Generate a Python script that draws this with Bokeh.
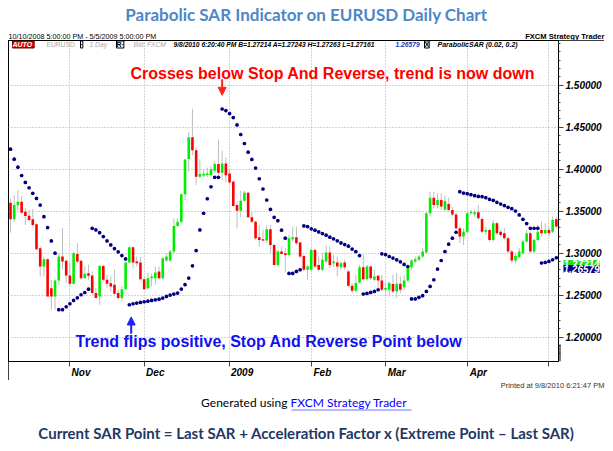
import pandas as pd
from bokeh.plotting import figure
from bokeh.layouts import column, row
from bokeh.models import (ColumnDataSource, Range1d, FixedTicker, PrintfTickFormatter,
                          Label, BoxAnnotation, Arrow, NormalHead)
from bokeh.embed import file_html
from bokeh.resources import INLINE

# ---------------- data ----------------
start_date = "2008-10-10"
end_date = "2009-05-05"

opens = [
    1.3601, 1.3403, 1.3569, 1.3613, 1.3494, 1.3446, 1.3403, 1.3343, 1.3058, 1.2840,
    1.2928, 1.2583, 1.2484, 1.2674, 1.2959, 1.2908, 1.2734, 1.2635, 1.2991, 1.2908,
    1.2702, 1.2761, 1.2734, 1.2524, 1.2484, 1.2848, 1.2682, 1.2642, 1.2622, 1.2524,
    1.2464, 1.2571, 1.2888, 1.3070, 1.2900, 1.2888, 1.2690, 1.2583, 1.2702, 1.2702,
    1.2781, 1.2702, 1.2912, 1.2912, 1.3019, 1.3324, 1.3375, 1.3700, 1.4120, 1.4380,
    1.4227, 1.3910, 1.3925, 1.3930, 1.3930, 1.3981, 1.4061, 1.3957, 1.4068, 1.3949,
    1.3850, 1.3573, 1.3506, 1.3625, 1.3720, 1.3426, 1.3375, 1.3189, 1.3165, 1.3149,
    1.3284, 1.3098, 1.2860, 1.3019, 1.2999, 1.2979, 1.3165, 1.3189, 1.3126, 1.2967,
    1.2801, 1.2801, 1.3038, 1.2860, 1.2801, 1.2900, 1.3007, 1.2880, 1.2888, 1.2833,
    1.2888, 1.2781, 1.2611, 1.2552, 1.2651, 1.2833, 1.2690, 1.2841, 1.2682, 1.2730,
    1.2674, 1.2564, 1.2564, 1.2631, 1.2544, 1.2635, 1.2595, 1.2675, 1.2833, 1.2900,
    1.2920, 1.2960, 1.3007, 1.3474, 1.3661, 1.3573, 1.3633, 1.3520, 1.3585, 1.3514,
    1.3460, 1.3296, 1.3197, 1.3256, 1.3474, 1.3462, 1.3486, 1.3407, 1.3256, 1.3276,
    1.3157, 1.3355, 1.3256, 1.3237, 1.3177, 1.3019, 1.2912, 1.2952, 1.2999, 1.3138,
    1.3237, 1.3019, 1.3157, 1.3276, 1.3237, 1.3277, 1.3256, 1.3403,
]
highs = [
    1.3652, 1.3692, 1.3751, 1.3680, 1.3533, 1.3514, 1.3525, 1.3355, 1.3078, 1.2959,
    1.2939, 1.2682, 1.2682, 1.2999, 1.3296, 1.2920, 1.2880, 1.3019, 1.3118, 1.2920,
    1.2840, 1.2860, 1.2781, 1.2583, 1.2860, 1.2860, 1.2741, 1.2722, 1.2801, 1.2563,
    1.2603, 1.2900, 1.3078, 1.3078, 1.2959, 1.2959, 1.2722, 1.2761, 1.2761, 1.2840,
    1.2840, 1.2959, 1.2999, 1.3038, 1.3415, 1.3415, 1.3712, 1.4127, 1.4440, 1.4720,
    1.4260, 1.4116, 1.3990, 1.4020, 1.4040, 1.4100, 1.4354, 1.4218, 1.4139, 1.3989,
    1.3870, 1.3613, 1.3743, 1.3743, 1.3731, 1.3494, 1.3387, 1.3335, 1.3276, 1.3335,
    1.3335, 1.3118, 1.3038, 1.3070, 1.3058, 1.3217, 1.3316, 1.3316, 1.3137, 1.2979,
    1.2860, 1.3058, 1.3058, 1.2959, 1.2999, 1.3098, 1.3078, 1.2979, 1.2959, 1.2900,
    1.2920, 1.2801, 1.2643, 1.2742, 1.2861, 1.2991, 1.2861, 1.2849, 1.2801, 1.2742,
    1.2742, 1.2643, 1.2663, 1.2742, 1.2762, 1.2722, 1.2742, 1.2861, 1.2928, 1.2960,
    1.2979, 1.3059, 1.3494, 1.3732, 1.3732, 1.3712, 1.3712, 1.3690, 1.3660, 1.3550,
    1.3480, 1.3316, 1.3296, 1.3494, 1.3514, 1.3520, 1.3573, 1.3435, 1.3316, 1.3296,
    1.3395, 1.3375, 1.3276, 1.3296, 1.3197, 1.3039, 1.3000, 1.3060, 1.3160, 1.3276,
    1.3256, 1.3177, 1.3335, 1.3375, 1.3355, 1.3316, 1.3435, 1.3435,
]
lows = [
    1.3244, 1.3375, 1.3514, 1.3474, 1.3335, 1.3375, 1.3316, 1.3038, 1.2722, 1.2722,
    1.2484, 1.2326, 1.2326, 1.2622, 1.2801, 1.2642, 1.2603, 1.2622, 1.2880, 1.2682,
    1.2702, 1.2682, 1.2504, 1.2464, 1.2385, 1.2662, 1.2583, 1.2543, 1.2504, 1.2444,
    1.2425, 1.2563, 1.2880, 1.2820, 1.2840, 1.2682, 1.2563, 1.2563, 1.2603, 1.2622,
    1.2682, 1.2682, 1.2900, 1.2900, 1.2999, 1.3316, 1.3355, 1.3632, 1.3969, 1.4167,
    1.3811, 1.3891, 1.3905, 1.3910, 1.3910, 1.3960, 1.3930, 1.3880, 1.3850, 1.3830,
    1.3553, 1.3296, 1.3426, 1.3613, 1.3415, 1.3355, 1.3157, 1.3078, 1.3137, 1.3118,
    1.2999, 1.2860, 1.2840, 1.2979, 1.2769, 1.2959, 1.3137, 1.3098, 1.2939, 1.2781,
    1.2682, 1.2781, 1.2820, 1.2781, 1.2781, 1.2880, 1.2820, 1.2840, 1.2722, 1.2801,
    1.2801, 1.2603, 1.2524, 1.2532, 1.2635, 1.2674, 1.2674, 1.2682, 1.2662, 1.2583,
    1.2544, 1.2504, 1.2484, 1.2524, 1.2465, 1.2524, 1.2564, 1.2651, 1.2801, 1.2880,
    1.2900, 1.2940, 1.2991, 1.3435, 1.3534, 1.3534, 1.3514, 1.3500, 1.3490, 1.3440,
    1.3276, 1.3118, 1.3098, 1.3237, 1.3455, 1.3430, 1.3395, 1.3237, 1.3217, 1.3138,
    1.3138, 1.3217, 1.3197, 1.3157, 1.2999, 1.2880, 1.2880, 1.2940, 1.2980, 1.3118,
    1.2999, 1.2999, 1.3138, 1.3197, 1.3217, 1.3200, 1.3237, 1.3296,
]
closes = [
    1.3403, 1.3573, 1.3613, 1.3482, 1.3442, 1.3395, 1.3335, 1.3046, 1.2840, 1.2928,
    1.2484, 1.2484, 1.2674, 1.2959, 1.2900, 1.2734, 1.2635, 1.2999, 1.2900, 1.2702,
    1.2753, 1.2730, 1.2524, 1.2464, 1.2848, 1.2682, 1.2635, 1.2603, 1.2516, 1.2464,
    1.2571, 1.2888, 1.3070, 1.2888, 1.2880, 1.2690, 1.2571, 1.2702, 1.2722, 1.2769,
    1.2702, 1.2939, 1.2959, 1.3019, 1.3324, 1.3375, 1.3700, 1.4116, 1.4380, 1.4227,
    1.3910, 1.3942, 1.3945, 1.3950, 1.3998, 1.4061, 1.3957, 1.4068, 1.3929, 1.3842,
    1.3561, 1.3506, 1.3625, 1.3720, 1.3426, 1.3375, 1.3177, 1.3157, 1.3149, 1.3284,
    1.3098, 1.2860, 1.3019, 1.2991, 1.2979, 1.3177, 1.3189, 1.3118, 1.2959, 1.2801,
    1.2840, 1.3038, 1.2840, 1.2801, 1.2920, 1.3007, 1.2860, 1.2900, 1.2841, 1.2880,
    1.2833, 1.2611, 1.2552, 1.2643, 1.2833, 1.2690, 1.2841, 1.2702, 1.2722, 1.2674,
    1.2564, 1.2584, 1.2643, 1.2544, 1.2635, 1.2564, 1.2675, 1.2833, 1.2912, 1.2928,
    1.2960, 1.3019, 1.3474, 1.3661, 1.3573, 1.3633, 1.3554, 1.3620, 1.3514, 1.3460,
    1.3296, 1.3197, 1.3256, 1.3474, 1.3494, 1.3486, 1.3415, 1.3256, 1.3276, 1.3157,
    1.3355, 1.3237, 1.3217, 1.3177, 1.3019, 1.2912, 1.2967, 1.3019, 1.3138, 1.3237,
    1.3019, 1.3157, 1.3256, 1.3237, 1.3276, 1.3237, 1.3395, 1.3316,
]
sar = [
    1.4238, 1.4119, 1.4024, 1.3925, 1.3842, 1.3779, 1.3712, 1.3652, 1.3573, 1.3434,
    1.3304, 1.3145, 1.2999, 1.2326, 1.2326, 1.2361, 1.2397, 1.2436, 1.2468, 1.2504,
    1.2531, 1.2571, 1.3296, 1.3276, 1.3244, 1.3197, 1.3145, 1.3098, 1.3054, 1.3015,
    1.2971, 1.2931, 1.2385, 1.2397, 1.2405, 1.2413, 1.2421, 1.2428, 1.2436, 1.2444,
    1.2452, 1.2464, 1.2484, 1.2500, 1.2512, 1.2524, 1.2572, 1.2624, 1.2703, 1.2849,
    1.3031, 1.3277, 1.3475, 1.3648, 1.3791, 1.3903, 1.3903, 1.4717, 1.4698, 1.4662,
    1.4615, 1.4527, 1.4413, 1.4306, 1.4203, 1.4116, 1.4013, 1.3886, 1.3764, 1.3633,
    1.3522, 1.3427, 1.3387, 1.3273, 1.3178, 1.2758, 1.2758, 1.2782, 1.2802, 1.3324,
    1.3316, 1.3289, 1.3273, 1.3253, 1.3233, 1.3214, 1.3190, 1.3170, 1.3146, 1.3122,
    1.3102, 1.3083, 1.3048, 1.3019, 1.2971, 1.2513, 1.2520, 1.2532, 1.2544, 1.2564,
    1.2992, 1.2983, 1.2960, 1.2941, 1.2920, 1.2897, 1.2865, 1.2841, 1.2454, 1.2454,
    1.2473, 1.2493, 1.2544, 1.2603, 1.2683, 1.2810, 1.2912, 1.3019, 1.3107, 1.3178,
    1.3249, 1.3732, 1.3716, 1.3708, 1.3696, 1.3684, 1.3676, 1.3672, 1.3661, 1.3641,
    1.3629, 1.3605, 1.3585, 1.3566, 1.3546, 1.3530, 1.3502, 1.3455, 1.3403, 1.3352,
    1.3296, 1.3296, 1.3296, 1.2882, 1.2889, 1.2901, 1.2921, 1.2945,
]
month_labels = ["Nov", "Dec", "2009", "Feb", "Mar", "Apr", ""]
y_ticks = [1.20, 1.25, 1.30, 1.35, 1.40, 1.45, 1.50]
last_bid = 1.27214
last_sar = 1.26579
flip_down_bar = 57
flip_up_bar = 32.5

# ---------------- derived ----------------
dates = pd.bdate_range(start_date, end_date)
n = len(dates)
idx = list(range(n))
month_starts = [i for i in range(1, n) if dates[i].month != dates[i - 1].month]

GREEN = "#00EE00"
RED = "#FF0000"
colors = [GREEN if c >= o else RED for o, c in zip(opens, closes)]
src = ColumnDataSource(dict(
    x=idx, high=highs, low=lows,
    top=[max(o, c) for o, c in zip(opens, closes)],
    bottom=[min(o, c) for o, c in zip(opens, closes)],
    color=colors))
sar_src = ColumnDataSource(dict(x=idx, sar=sar))

FONT = "Liberation Sans"
Y_LO, Y_HI = 1.1709, 1.5533
STRIP = 18          # height of the date strip under the chart
CH_H = 340          # chart figure height

# ---------------- top band ----------------
top = figure(width=605, height=40, x_range=Range1d(0, 605), y_range=Range1d(40, 0),
             x_axis_type=None, y_axis_type=None, output_backend="svg",
             toolbar_location=None, min_border=0, outline_line_color=None)


def lab(fig, txt, x, y, size, color="black", style="normal", font=FONT, align="left",
        baseline="middle", x_units="data", y_units="data", **kw):
    fig.add_layout(Label(x=x, y=y, x_units=x_units, y_units=y_units, text=txt,
                         text_font=font, text_font_size=f"{size}px", text_color=color,
                         text_font_style=style, text_align=align, text_baseline=baseline, **kw))


lab(top, "Parabolic SAR Indicator on EURUSD Daily Chart", 306, 14, 17,
    color="#4F86C6", style="bold", font="Lato", align="center")
lab(top, "10/10/2008 5:00:00 PM - 5/5/2009 5:00:00 PM", 8, 36, 7.2)
lab(top, "FXCM Strategy Trader", 604, 36, 7.6, style="bold", align="right")

# ---------------- main chart ----------------
p = figure(width=596, height=CH_H, output_backend="svg", toolbar_location=None,
           x_range=Range1d(-0.538, 147.58), y_range=Range1d(Y_LO, Y_HI),
           y_axis_location="right", margin=(0, 0, 0, 8),
           min_border_left=0, min_border_right=45, min_border_top=0,
           min_border_bottom=STRIP)
p.styles = {"outline": "1px solid black", "outline-offset": "-1px"}
p.outline_line_color = "black"
p.background_fill_color = "white"
p.border_fill_color = "white"

p.xgrid.ticker = FixedTicker(ticks=month_starts)
p.ygrid.ticker = FixedTicker(ticks=y_ticks)
for g in (p.xgrid, p.ygrid):
    g.grid_line_color = "#A8A8A8"
    g.grid_line_dash = "1 2"

xa = p.xaxis[0]
xa.ticker = FixedTicker(ticks=month_starts)
xa.major_label_overrides = {m: "\u00a0" * (8 if len(t) == 3 else 9) + t
                            for m, t in zip(month_starts, month_labels)}
xa.major_label_standoff = 0
xa.major_tick_out = 5
xa.major_tick_in = 0
xa.minor_tick_out = 0
xa.minor_tick_in = 0
xa.axis_line_color = "black"
xa.major_tick_line_color = "#444444"
xa.major_label_text_font = FONT
xa.major_label_text_font_size = "10px"
xa.major_label_text_font_style = "bold italic"
xa.major_label_text_color = "black"

ya = p.yaxis[0]
ya.ticker = FixedTicker(ticks=y_ticks, minor_ticks=[round(1.17 + 0.01 * k, 2) for k in range(39)])
ya.formatter = PrintfTickFormatter(format="%.5f")
ya.major_tick_out = 5
ya.major_tick_in = 0
ya.minor_tick_out = 2
ya.minor_tick_in = 0
ya.major_label_standoff = 2
ya.axis_line_color = "black"
ya.major_tick_line_color = "#444444"
ya.minor_tick_line_color = "#444444"
ya.major_label_text_font = FONT
ya.major_label_text_font_size = "10px"
ya.major_label_text_font_style = "bold italic"
ya.major_label_text_color = "black"

p.segment(x0="x", y0="high", x1="x", y1="low", source=src, line_color="#BEBEBE", line_width=1)
p.vbar(x="x", top="top", bottom="bottom", width=0.7, source=src,
       fill_color="color", line_color=None)
p.scatter(x="x", y="sar", source=sar_src, marker="circle", size=3.7,
          fill_color="#000080", line_color=None)

# header row inside the chart (screen units from the frame's bottom-left)
HY = 317
lab(p, "AUTO ", 4, HY, 7, color="white", style="bold italic", x_units="screen",
    y_units="screen", background_fill_color="#E00000", border_line_color="#700000")
lab(p, "EURUSD", 38, HY, 6.7, color="#A8A8A8", x_units="screen", y_units="screen")
lab(p, "\u00b7", 72, HY, 7, style="bold", x_units="screen", y_units="screen",
    border_line_color="black")
lab(p, "1 Day", 81, HY, 6.7, color="#A8A8A8", style="italic", x_units="screen", y_units="screen")
lab(p, "R\u00b7", 108, HY, 7, style="bold", x_units="screen", y_units="screen",
    border_line_color="black")
lab(p, "Bid: FXCM", 125, HY, 6.7, color="#A8A8A8", style="italic", x_units="screen",
    y_units="screen")
lab(p, "9/8/2010 6:20:40 PM B=1.27214 A=1.27243 H=1.27263 L=1.27161", 165, HY, 6.7,
    style="bold italic", x_units="screen", y_units="screen")
lab(p, "1.26579", 387, HY, 6.7, color="#3030C0", style="bold italic", x_units="screen",
    y_units="screen")
lab(p, "X", 416, HY, 7, style="bold", x_units="screen", y_units="screen",
    border_line_color="black")
lab(p, "ParabolicSAR (0.02, 0.2)", 429, HY, 7, style="bold italic", x_units="screen",
    y_units="screen")

# annotations
lab(p, "Crosses below Stop And Reverse, trend is now down", 122, 288, 16,
    color="#FF0000", style="bold", x_units="screen", y_units="screen")
lab(p, "Trend flips positive, Stop And Reverse Point below", 67, 20, 16,
    color="#1010F0", style="bold", x_units="screen", y_units="screen")
p.add_layout(Arrow(end=NormalHead(size=8, fill_color="#FF2020", line_color="#FF2020"),
                   x_start=flip_down_bar, y_start=1.5070, x_end=flip_down_bar, y_end=1.4880,
                   line_color="#FF2020", line_width=2))
p.add_layout(Arrow(end=NormalHead(size=8, fill_color="#2020FF", line_color="#2020FF"),
                   x_start=flip_up_bar, y_start=1.2040, x_end=flip_up_bar, y_end=1.2240,
                   line_color="#2020FF", line_width=2))

# ---------------- price markers overlaid on the right axis ----------------
y_lo_side = Y_LO - STRIP / (CH_H - STRIP) * (Y_HI - Y_LO)
side = figure(width=46, height=CH_H, x_range=Range1d(558, 604), y_range=Range1d(y_lo_side, Y_HI),
              x_axis_type=None, y_axis_type=None, output_backend="svg",
              toolbar_location=None, min_border=0, margin=(0, 0, 0, -46),
              background_fill_color=None, border_fill_color=None, outline_line_color=None)
side.segment(x0=[559.5], y0=[y_lo_side], x1=[559.5], y1=[Y_LO], line_color="black")
lab(side, "1.27214", 563, last_bid, 10, color="white", style="bold italic",
    background_fill_color="#22DD22")
lab(side, "1.26579", 563, last_sar, 10, color="white", style="bold italic",
    background_fill_color="#000080")

# ---------------- bottom band ----------------
bot = figure(width=605, height=63, x_range=Range1d(0, 605), y_range=Range1d(443, 380),
             x_axis_type=None, y_axis_type=None, output_backend="svg",
             toolbar_location=None, min_border=0, outline_line_color=None)
lab(bot, "Printed at 9/8/2010 6:21:47 PM", 604, 385, 7.5, color="#333333", align="right")
lab(bot, "Generated using ", 290, 402, 12, font="Lato", align="right")
lab(bot, "FXCM Strategy Trader", 290, 402, 12, font="Lato", color="#0000FF")
bot.add_layout(BoxAnnotation(left=291, right=411, top=409.5, bottom=409.5,
                             fill_alpha=0, line_color="#0000FF", line_width=1))
lab(bot, "Current SAR Point = Last SAR + Acceleration Factor x (Extreme Point \u2013 Last SAR)",
    306, 432, 15, color="#1F3864", style="bold", font="Lato", align="center")

layout = column(top, row(p, side), bot)
open("out.html", "w").write(file_html(layout, INLINE))
